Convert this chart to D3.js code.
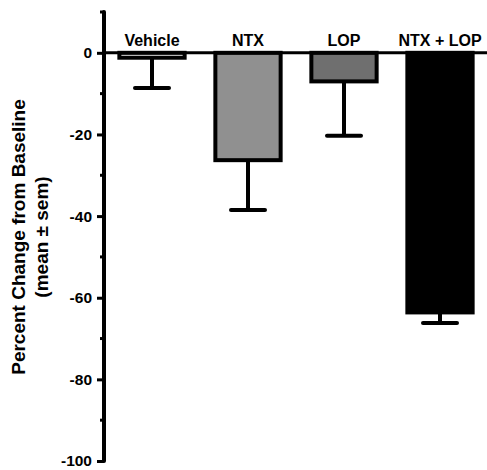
<!DOCTYPE html>
<html>
<head>
<meta charset="utf-8">
<script src="https://cdn.jsdelivr.net/npm/d3@7"></script>
<style>
  body { margin: 0; background: #fff; }
  text { font-family: "Liberation Sans", Arial, sans-serif; font-weight: bold; }
</style>
</head>
<body>
<div id="chart-area"></div>
<script>
// Data
var groups = ["Vehicle", "NTX", "LOP", "NTX + LOP"];
var means = [-1.2, -26.3, -7.0, -63.6];
var sems = [7.4, 12.2, 13.3, 2.6];
var fills = ["#ffffff", "#909090", "#6f6f6f", "#000000"];
var yTicks = [0, -20, -40, -60, -80, -100];
var yMinor = [10, -10, -30, -50, -70, -90];

var width = 487,
	height = 470;

var svg = d3.select("#chart-area").append("svg")
	.attr("width", width)
	.attr("height", height);

// scales
var y = d3.scaleLinear()
	.domain([-100, 10])
	.range([461, 12]);

var x = d3.scaleBand()
	.domain(groups)
	.range([104, 488])
	.paddingInner(0.32)
	.paddingOuter(0.16);

var data = groups.map(function(g, i) {
	return {group: g, mean: means[i], sem: sems[i], fill: fills[i]};
});

// error bars (downward only, drawn before bars)
var err = svg.append("g").attr("class", "errors");
err.selectAll("line.stem")
	.data(data)
	.enter()
	.append("line")
	.attr("x1", function(d) { return x(d.group) + x.bandwidth() / 2; })
	.attr("x2", function(d) { return x(d.group) + x.bandwidth() / 2; })
	.attr("y1", function(d) { return y(d.mean); })
	.attr("y2", function(d) { return y(d.mean - d.sem); })
	.attr("stroke", "#000")
	.attr("stroke-width", 4);

err.selectAll("line.cap")
	.data(data)
	.enter()
	.append("line")
	.attr("x1", function(d) { return x(d.group) + x.bandwidth() / 2 - 17; })
	.attr("x2", function(d) { return x(d.group) + x.bandwidth() / 2 + 17; })
	.attr("y1", function(d) { return y(d.mean - d.sem); })
	.attr("y2", function(d) { return y(d.mean - d.sem); })
	.attr("stroke", "#000")
	.attr("stroke-width", 4)
	.attr("stroke-linecap", "round");

// bars
svg.selectAll("rect.bar")
	.data(data)
	.enter()
	.append("rect")
	.attr("class", "bar")
	.attr("x", function(d) { return x(d.group); })
	.attr("y", y(0))
	.attr("width", x.bandwidth())
	.attr("height", function(d) { return y(d.mean) - y(0); })
	.attr("fill", function(d) { return d.fill; })
	.attr("stroke", "#000")
	.attr("stroke-width", 4);

// zero line across the plot
svg.append("line")
	.attr("x1", 104)
	.attr("x2", 487)
	.attr("y1", y(0))
	.attr("y2", y(0))
	.attr("stroke", "#000")
	.attr("stroke-width", 3);

// y axis
var yAxis = d3.axisLeft(y)
	.tickValues(yTicks)
	.tickSize(7)
	.tickPadding(5)
	.tickFormat(function(d) { return String(d); });   // plain hyphen minus

var axisG = svg.append("g")
	.attr("class", "axis yAxis")
	.attr("transform", "translate(104,0)")
	.call(yAxis);

axisG.select(".domain").remove();
axisG.selectAll(".tick line")
	.attr("stroke", "#000")
	.attr("stroke-width", 3);
axisG.selectAll(".tick text")
	.attr("font-size", 15.5)
	.attr("font-weight", "bold")
	.attr("font-family", "Liberation Sans, Arial, sans-serif")
	.attr("fill", "#000");

axisG.selectAll("line.minor")
	.data(yMinor)
	.enter()
	.append("line")
	.attr("class", "minor")
	.attr("x1", -4)
	.attr("x2", 0)
	.attr("y1", function(d) { return y(d); })
	.attr("y2", function(d) { return y(d); })
	.attr("stroke", "#000")
	.attr("stroke-width", 3);

axisG.append("line")
	.attr("x1", 0)
	.attr("x2", 0)
	.attr("y1", y(10))
	.attr("y2", y(-100))
	.attr("stroke", "#000")
	.attr("stroke-width", 4)
	.attr("stroke-linecap", "round");

// group labels above bars
svg.selectAll("text.grp")
	.data(data)
	.enter()
	.append("text")
	.attr("class", "grp")
	.attr("x", function(d) { return x(d.group) + x.bandwidth() / 2; })
	.attr("y", 46)
	.attr("text-anchor", "middle")
	.attr("font-size", 16)
	.text(function(d) { return d.group; });

// y axis title
var title = svg.append("text")
	.attr("transform", "translate(25,237) rotate(-90)")
	.attr("text-anchor", "middle")
	.attr("font-size", 19);
title.append("tspan")
	.attr("x", 0)
	.attr("dy", 0)
	.text("Percent Change from Baseline");
title.append("tspan")
	.attr("x", 0)
	.attr("dy", 23)
	.text("(mean \u00b1 sem)");
</script>
</body>
</html>
